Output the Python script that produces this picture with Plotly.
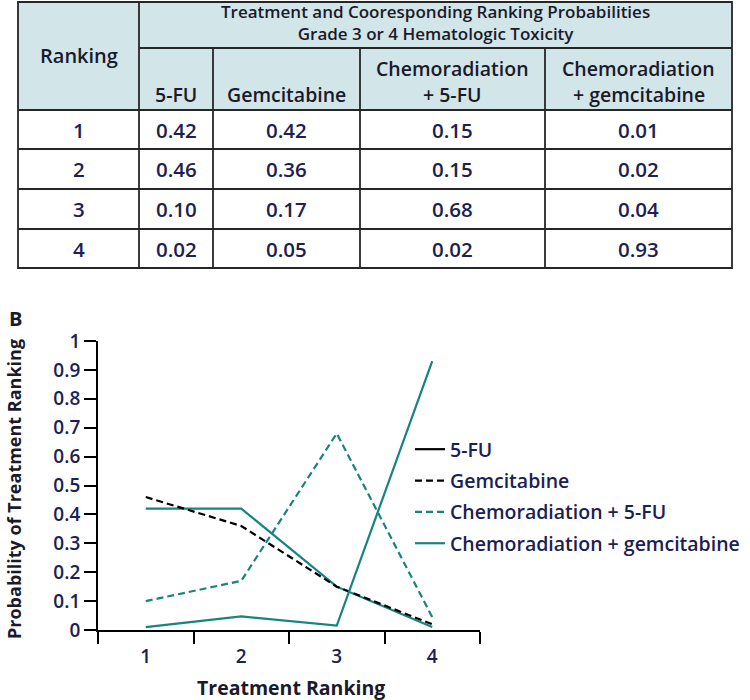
import plotly.graph_objects as go

# ---------------- data ----------------
rankings = ["1", "2", "3", "4"]
treatments = ["5-FU", "Gemcitabine", "Chemoradiation + 5-FU", "Chemoradiation + gemcitabine"]
table_headers = ["5-FU", "Gemcitabine", "Chemoradiation<br>+ 5-FU", "Chemoradiation<br>+ gemcitabine"]
table_5fu = ["0.42", "0.46", "0.10", "0.02"]
table_gem = ["0.42", "0.36", "0.17", "0.05"]
table_crt5fu = ["0.15", "0.15", "0.68", "0.02"]
table_crtgem = ["0.01", "0.02", "0.04", "0.93"]

# values of the lines as drawn in panel B
line_5fu = [0.42, 0.42, 0.15, 0.01]
line_gem = [0.46, 0.36, 0.15, 0.02]
line_crt5fu = [0.10, 0.17, 0.68, 0.045]
line_crtgem = [0.01, 0.047, 0.015, 0.93]

title_lines = ["Treatment and Cooresponding Ranking Probabilities",
               "Grade 3 or 4 Hematologic Toxicity"]

# ---------------- style ----------------
W, H = 750, 700
FONT = "Open Sans"
TEAL = "#17847e"
NAVY = "#1b2152"
DARK = "#1a1a2a"
HEAD_FILL = "#d2e5e9"
BORDER = "#262626"


def px(x):
    return x / W


def py(y):
    return 1 - y / H


fig = go.Figure()

fig.add_trace(go.Scatter(x=[None], y=[None], mode="lines", name=treatments[0],
                         legendgroup="a", line=dict(color="black", width=2.2)))
fig.add_trace(go.Scatter(x=rankings, y=line_5fu, mode="lines", name=treatments[0],
                         legendgroup="a", showlegend=False, line=dict(color=TEAL, width=2.2)))
fig.add_trace(go.Scatter(x=rankings, y=line_gem, mode="lines", name=treatments[1],
                         legendgroup="b", line=dict(color="black", width=2.2, dash="7px,4px")))
fig.add_trace(go.Scatter(x=rankings, y=line_crt5fu, mode="lines", name=treatments[2],
                         legendgroup="c", line=dict(color=TEAL, width=2.2, dash="7px,4px")))
fig.add_trace(go.Scatter(x=rankings, y=line_crtgem, mode="lines", name=treatments[3],
                         legendgroup="d", line=dict(color=TEAL, width=2.2)))

# ---------------- table ----------------
cols = [18, 139, 213, 360, 545, 732]
rows = [2, 48, 110, 149, 189, 229, 268]
shapes = []
shapes.append(dict(type="rect", xref="paper", yref="paper",
                   x0=px(cols[0]), x1=px(cols[-1]), y0=py(rows[0]), y1=py(rows[2]),
                   fillcolor=HEAD_FILL, line=dict(width=0), layer="below"))
lw = 1.8
shapes.append(dict(type="rect", xref="paper", yref="paper",
                   x0=px(cols[0]), x1=px(cols[-1]), y0=py(rows[0]), y1=py(rows[-1]),
                   line=dict(color=BORDER, width=lw)))
shapes.append(dict(type="line", xref="paper", yref="paper",
                   x0=px(cols[1]), x1=px(cols[-1]), y0=py(rows[1]), y1=py(rows[1]),
                   line=dict(color=BORDER, width=lw)))
for r in rows[2:-1]:
    shapes.append(dict(type="line", xref="paper", yref="paper",
                       x0=px(cols[0]), x1=px(cols[-1]), y0=py(r), y1=py(r),
                       line=dict(color=BORDER, width=lw)))
shapes.append(dict(type="line", xref="paper", yref="paper",
                   x0=px(cols[1]), x1=px(cols[1]), y0=py(rows[0]), y1=py(rows[-1]),
                   line=dict(color=BORDER, width=lw)))
for c in cols[2:-1]:
    shapes.append(dict(type="line", xref="paper", yref="paper",
                       x0=px(c), x1=px(c), y0=py(rows[1]), y1=py(rows[-1]),
                       line=dict(color=BORDER, width=lw)))

ann = []


def text(x, y, s, size, color=DARK, weight=600, xanchor="center", yanchor="middle", **kw):
    ann.append(dict(x=px(x), y=py(y), xref="paper", yref="paper", text=s,
                    showarrow=False, xanchor=xanchor, yanchor=yanchor,
                    font=dict(family=FONT, size=size, color=color, weight=weight), **kw))


head_cx = (cols[1] + cols[-1]) / 2
text(head_cx, 22, "<br>".join(title_lines), 17, borderpad=0)
text((cols[0] + cols[1]) / 2, 56, "Ranking", 20)
for i, h in enumerate(table_headers):
    cx = (cols[i + 1] + cols[i + 2]) / 2
    if "<br>" in h:
        a, b = h.split("<br>")
        text(cx, 68, a, 19.5)
        text(cx, 95, b, 19.5)
    else:
        text(cx, 95, h, 19.5)

table_cols = [table_5fu, table_gem, table_crt5fu, table_crtgem]
for r, rk in enumerate(rankings):
    cy = (rows[r + 2] + rows[r + 3]) / 2
    text((cols[0] + cols[1]) / 2, cy, rk, 20.5, color=NAVY)
    for j, colvals in enumerate(table_cols):
        cx = (cols[j + 1] + cols[j + 2]) / 2
        text(cx, cy, colvals[r], 20.5, color=NAVY)

text(15, 318, "B", 20, weight=700)
text(14, 489, "Probability of Treatment Ranking", 18, weight=700, textangle=-90)
text(291, 687, "Treatment Ranking", 19.5, weight=700)

# ---------------- layout ----------------
x0, x1, y_top, y_bot = 98, 480, 341, 630
fig.update_layout(
    width=W, height=H,
    margin=dict(l=0, r=0, t=0, b=0, autoexpand=False),
    paper_bgcolor="white", plot_bgcolor="white",
    shapes=shapes, annotations=ann,
    showlegend=True,
    legend=dict(x=px(410), y=py(430), xanchor="left", yanchor="top",
                font=dict(family=FONT, size=19.5, color=NAVY, weight=600),
                bgcolor="rgba(0,0,0,0)", tracegroupgap=3, itemwidth=30),
    xaxis=dict(domain=[px(x0), px(x1)], type="category", tickson="boundaries",
               range=[-0.5, 3.5], automargin=False,
               showline=True, linecolor="black", linewidth=1.8,
               ticks="outside", ticklen=12, tickwidth=1.8, tickcolor="black",
               showgrid=False, zeroline=False, ticklabelstandoff=8,
               tickfont=dict(family=FONT, size=19, color=NAVY, weight=600)),
    yaxis=dict(domain=[py(y_bot), py(y_top)], range=[0, 1], dtick=0.1, automargin=False,
               showline=True, linecolor="black", linewidth=1.8,
               ticks="outside", ticklen=12, tickwidth=1.8, tickcolor="black",
               showgrid=False, zeroline=False,
               tickfont=dict(family=FONT, size=19, color=NAVY, weight=600)),
)

# remove the default 8px page margin so the figure sits at the window origin
fig.write_html("out.html", config={"displayModeBar": False},
               post_script="document.body.style.margin='0';")
